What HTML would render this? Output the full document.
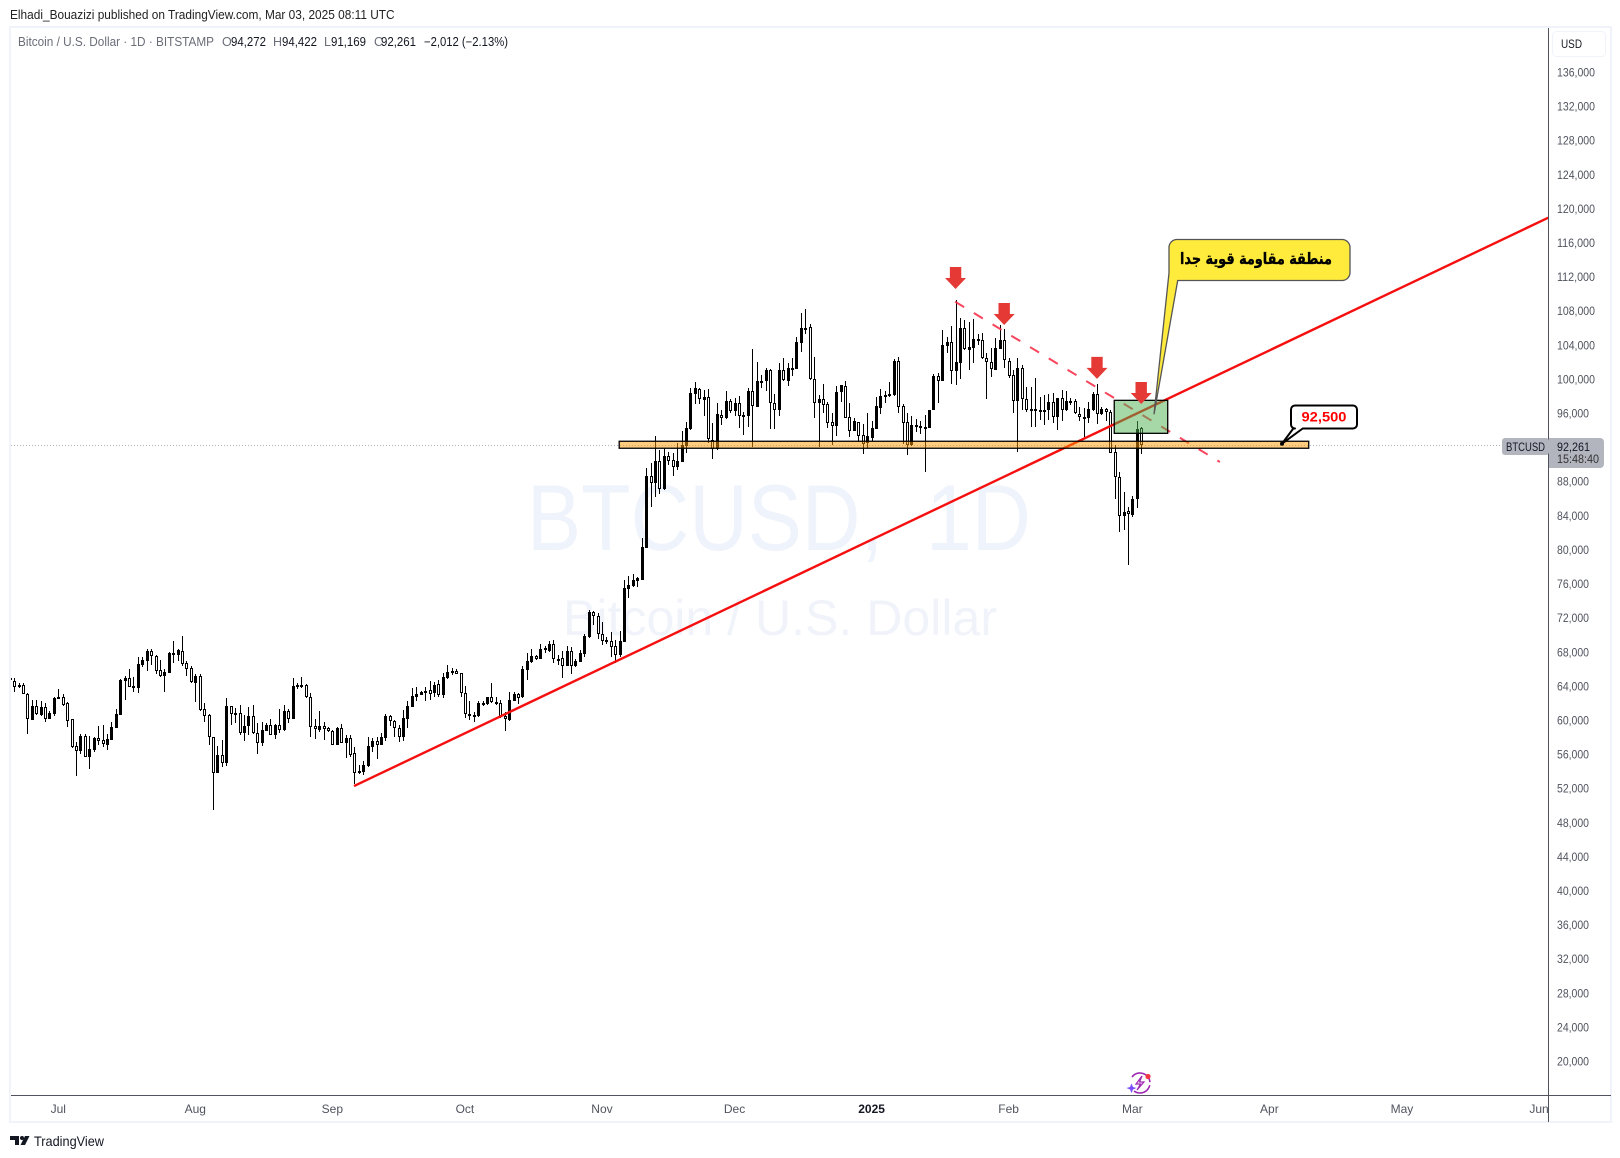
<!DOCTYPE html>
<html>
<head>
<meta charset="utf-8">
<title>BTCUSD chart</title>
<style>
html,body{margin:0;padding:0;background:#fff;width:1620px;height:1158px;overflow:hidden}
svg{display:block;font-family:"Liberation Sans","DejaVu Sans",sans-serif}
</style>
</head>
<body>
<svg id="root" width="1620" height="1158" viewBox="0 0 1620 1158" xmlns="http://www.w3.org/2000/svg">
  <defs><clipPath id="pane"><rect x="11" y="28" width="1537" height="1067"/></clipPath></defs>
  <text x="10" y="19" font-size="12.5" fill="#222" textLength="384.6" lengthAdjust="spacingAndGlyphs">Elhadi_Bouazizi published on TradingView.com, Mar 03, 2025 08:11 UTC</text>
  <rect x="10" y="27" width="1601" height="1095" fill="#fff" stroke="#f0f3fa" stroke-width="2"/>

  <g>
    <text x="527" y="550" font-size="94" fill="#eff3fb" textLength="356" lengthAdjust="spacingAndGlyphs">BTCUSD,</text>
    <text x="926" y="550" font-size="94" fill="#eff3fb" textLength="105" lengthAdjust="spacingAndGlyphs">1D</text>
    <text x="563" y="635" font-size="50" fill="#f0f3fa" textLength="434" lengthAdjust="spacingAndGlyphs">Bitcoin / U.S. Dollar</text>
  </g>

  <g id="plot" clip-path="url(#pane)"></g>

  <g>
    <text x="18" y="46" font-size="12.5" fill="#6a6d78" textLength="196" lengthAdjust="spacingAndGlyphs">Bitcoin / U.S. Dollar · 1D · BITSTAMP</text>
    <text x="222" y="46" font-size="12.5" fill="#6a6d78">O</text>
    <text x="231" y="46" font-size="12.5" fill="#131722" textLength="35" lengthAdjust="spacingAndGlyphs">94,272</text>
    <text x="273" y="46" font-size="12.5" fill="#6a6d78">H</text>
    <text x="282" y="46" font-size="12.5" fill="#131722" textLength="35" lengthAdjust="spacingAndGlyphs">94,422</text>
    <text x="324" y="46" font-size="12.5" fill="#6a6d78">L</text>
    <text x="331" y="46" font-size="12.5" fill="#131722" textLength="35" lengthAdjust="spacingAndGlyphs">91,169</text>
    <text x="374" y="46" font-size="12.5" fill="#6a6d78">C</text>
    <text x="381" y="46" font-size="12.5" fill="#131722" textLength="35" lengthAdjust="spacingAndGlyphs">92,261</text>
    <text x="424" y="46" font-size="12.5" fill="#131722" textLength="84" lengthAdjust="spacingAndGlyphs">−2,012 (−2.13%)</text>
  </g>

  <g id="annotations">
    <path d="M1177 239.5H1342a8 8 0 0 1 8 8V272.5a8 8 0 0 1 -8 8H1177.7L1154 414.3L1169 273V247.5a8 8 0 0 1 8 -8Z" fill="#ffeb3b" stroke="#555" stroke-width="1.3"/>
    <text x="1256" y="264" font-size="16" font-weight="bold" fill="#000" stroke="#000" stroke-width="0.35" text-anchor="middle" textLength="152" lengthAdjust="spacingAndGlyphs" style='font-family:"DejaVu Sans","Liberation Sans",sans-serif'>منطقة مقاومة قوية جدا</text>
    <path d="M1295 405.5H1353a4 4 0 0 1 4 4V424.5a4 4 0 0 1 -4 4H1302.7L1282 443.7L1293.3 428.5H1295a4 4 0 0 1 -4 -4V409.5a4 4 0 0 1 4 -4Z" fill="#fff" stroke="#000" stroke-width="2" stroke-linejoin="round"/>
    <circle cx="1282" cy="443.7" r="2" fill="#000"/>
    <text x="1324" y="421.5" font-size="14" font-weight="bold" fill="#f00" text-anchor="middle" textLength="45" lengthAdjust="spacingAndGlyphs">92,500</text>
  </g>

  <g id="axes">
    <rect x="1549" y="28" width="61" height="1093" fill="#fff"/>
    <rect x="11" y="1096" width="1599" height="25" fill="#fff"/>
    <line x1="1548.5" y1="28" x2="1548.5" y2="1122" stroke="#50535e" stroke-width="1"/>
    <line x1="11" y1="1095.5" x2="1611" y2="1095.5" stroke="#50535e" stroke-width="1"/>
    <rect x="1552.5" y="31.5" width="53" height="25" rx="4" fill="#fff" stroke="#f0f3fa"/>
    <text x="1561" y="48" font-size="12" fill="#131722" textLength="21" lengthAdjust="spacingAndGlyphs">USD</text>
    <g id="yticks"></g>
    <g id="xticks"></g>
    <rect x="1502" y="438" width="47" height="17" rx="3" fill="#b2b5be"/>
    <text x="1506" y="451" font-size="11.5" fill="#131722" textLength="39" lengthAdjust="spacingAndGlyphs">BTCUSD</text>
    <path d="M1549 438H1600a4 4 0 0 1 4 4V464a4 4 0 0 1 -4 4H1549Z" fill="#b2b5be"/>
    <text x="1557" y="451" font-size="12" fill="#131722" textLength="33" lengthAdjust="spacingAndGlyphs">92,261</text>
    <text x="1557" y="463" font-size="12" fill="#333" textLength="42" lengthAdjust="spacingAndGlyphs">15:48:40</text>
  </g>

  <g transform="translate(2,1)">
    <path d="M1130 1076A10 10 0 1 1 1132 1090" fill="none" stroke="#9c27b0" stroke-width="1.6" stroke-dasharray="24 3"/>
    <path d="M1140 1075L1134 1083H1138.5L1135 1089L1142 1081H1137.5Z" fill="none" stroke="#9c27b0" stroke-width="1.2"/>
    <circle cx="1146" cy="1075.5" r="2.6" fill="#f23645"/>
    <path d="M1129.5 1082.5L1131 1086L1134.5 1087L1131 1088.5L1129.5 1092L1128 1088.5L1124.5 1087L1128 1086Z" fill="#7c4dff"/>
  </g>

  <g>
    <path d="M10 1136H19V1145H15V1140H10Z" fill="#131722"/>
    <circle cx="22" cy="1138" r="2" fill="#131722"/>
    <path d="M25 1136H29.5L25 1145H20.5Z" fill="#131722"/>
    <text x="34" y="1146" font-size="14" fill="#131722" textLength="70" lengthAdjust="spacingAndGlyphs">TradingView</text>
  </g>
</svg>
<script>
// Daily candles in thousands of USD, oldest first. First candle is Jun 20 2024 (day -11 from Jul 1).
const firstDay = -11;
const opens = [
64.75,64.60,64.02,64.06,63.04,60.03,61.59,60.58,61.48,60.15,
60.73,62.49,62.65,61.95,60.07,56.90,56.39,58.07,55.69,56.51,
57.84,57.60,57.10,57.68,59.09,60.62,64.60,64.88,63.78,63.78,
66.48,66.95,68.04,67.46,65.82,65.19,65.54,67.77,67.65,68.04,
66.64,66.05,64.37,65.15,61.24,60.54,57.96,53.81,55.85,54.99,
61.59,60.73,60.77,58.50,59.25,60.42,58.50,57.33,58.74,59.36,
58.27,59.36,58.82,61.01,60.15,64.02,63.98,64.06,62.65,59.25,
58.82,59.25,59.01,58.74,57.10,59.01,57.29,57.84,56.08,53.81,
53.93,54.59,56.86,57.49,57.09,57.92,60.42,59.83,59.01,58.03,
60.14,61.55,62.72,62.96,63.23,63.47,63.15,64.21,62.96,64.91,
65.62,65.70,65.46,63.12,60.50,60.38,60.46,61.94,61.86,62.65,
62.02,61.98,60.42,59.99,62.26,63.00,62.65,65.89,66.79,67.46,
67.14,68.36,68.04,68.86,67.14,67.22,66.36,68.04,66.28,66.79,
67.73,69.72,72.62,72.15,70.04,69.10,69.22,68.63,67.61,69.14,
75.36,75.71,76.29,76.41,80.20,88.61,87.83,90.34,87.05,90.96,
90.45,89.71,90.30,92.13,94.13,98.27,98.78,97.53,97.84,92.80,
91.74,95.73,95.42,97.37,96.28,97.14,95.69,95.69,98.55,96.75,
99.68,99.76,101.05,97.14,96.40,101.01,99.76,101.17,101.17,104.25,
105.94,106.05,99.95,97.22,97.65,97.06,94.91,94.52,98.43,99.13,
95.50,93.93,94.91,93.39,92.45,93.07,94.17,96.63,98.04,98.16,
98.12,102.07,96.79,94.91,92.25,94.40,94.36,94.28,94.25,96.40,
100.31,99.80,103.90,104.29,100.97,101.91,105.94,103.43,103.67,104.61,
104.53,102.42,101.95,101.09,103.55,104.53,102.14,100.42,97.45,101.28,
97.61,96.36,96.40,96.28,96.28,96.32,97.26,95.57,97.72,96.36,
97.29,97.37,95.85,95.50,95.46,96.36,98.19,95.89,96.43,96.08,
91.39,88.46,83.92,84.47,84.04,85.88,94.27];
const highs = [
66.32,64.88,64.37,64.29,63.12,62.34,62.34,62.22,62.02,61.05,
62.73,63.59,63.00,62.10,60.15,57.41,58.31,58.31,58.11,58.03,
59.29,59.40,58.35,59.72,61.28,64.76,65.19,65.93,65.07,67.42,
67.42,68.28,68.32,67.61,67.03,65.93,68.01,69.26,68.28,69.84,
66.87,66.32,65.39,65.39,61.95,60.69,58.03,56.94,57.64,62.53,
61.63,61.36,61.75,60.58,61.48,61.75,59.60,59.72,59.60,60.15,
59.52,61.28,61.75,61.24,64.88,64.29,65.03,64.17,63.12,60.07,
61.05,59.79,59.21,58.82,59.13,59.52,58.23,58.23,56.86,54.71,
55.18,57.96,57.84,57.96,58.42,60.65,60.57,59.99,59.40,61.16,
62.26,63.78,63.90,63.39,63.82,64.52,64.48,64.68,65.54,66.44,
66.05,65.97,65.50,63.94,62.26,60.97,62.26,62.26,62.72,64.29,
62.72,62.30,60.97,63.27,63.31,63.12,66.32,67.81,68.28,67.61,
68.86,68.67,69.26,69.37,67.57,68.04,68.67,68.59,67.14,68.20,
70.08,72.89,72.81,72.50,71.44,69.76,70.35,69.37,70.43,76.41,
76.88,77.12,76.76,81.34,89.51,90.10,93.31,91.67,91.86,91.47,
91.27,92.45,93.89,94.99,98.90,99.64,98.90,98.70,98.78,94.79,
97.14,96.36,98.58,97.69,97.73,98.04,96.16,98.90,103.47,101.99,
100.50,101.24,101.13,98.23,101.91,102.50,101.83,102.50,104.96,107.70,
108.20,106.44,102.53,98.12,99.41,97.26,95.97,99.17,99.29,99.76,
97.14,95.38,94.99,94.71,95.97,95.11,97.92,98.78,98.62,99.68,
102.30,102.53,97.02,95.97,95.65,95.34,95.11,95.77,96.36,100.58,
100.66,105.74,104.88,106.21,109.26,107.11,106.91,106.72,107.03,105.27,
105.35,103.00,103.59,104.76,106.33,105.82,102.42,101.05,102.42,101.63,
99.09,99.02,100.07,97.92,98.12,98.23,98.31,97.72,98.70,98.62,
97.72,97.65,96.75,96.55,97.33,98.51,99.41,96.75,96.55,96.36,
92.25,89.12,86.78,85.02,86.27,95.07,94.42];
const lows = [
64.70,63.31,63.78,63.00,58.35,59.99,60.58,60.46,59.79,60.15,
60.46,62.41,61.63,59.21,56.67,53.46,55.96,55.69,54.28,56.28,
57.10,56.86,56.47,57.64,59.09,60.58,62.34,63.82,63.24,63.20,
66.25,65.78,66.44,65.39,65.07,63.31,65.54,66.64,66.95,66.36,
65.19,64.37,62.10,61.08,59.79,57.10,49.43,53.81,54.52,54.63,
59.44,59.60,58.27,57.57,58.23,58.35,56.00,56.94,58.70,58.23,
57.80,58.43,58.74,59.60,60.15,63.59,63.74,62.61,58.03,57.76,
58.62,57.64,58.58,57.10,57.06,57.29,55.57,55.61,52.48,53.65,
53.54,54.51,56.23,55.45,57.05,57.56,59.28,58.03,57.45,57.49,
59.09,61.47,62.26,62.92,62.26,62.33,62.65,62.72,62.53,64.80,
65.31,65.38,62.72,60.18,59.99,59.79,60.38,61.67,61.79,62.02,
61.75,60.18,58.74,59.91,62.22,61.86,62.53,64.72,66.67,67.03,
67.10,67.89,68.00,66.71,66.44,64.95,66.32,65.38,66.24,66.75,
67.42,69.65,71.13,69.45,68.82,68.90,67.42,66.71,67.42,69.10,
74.30,75.59,75.59,76.41,80.13,85.00,86.19,86.50,86.97,89.91,
88.62,89.32,90.26,91.35,94.05,97.06,97.06,95.65,92.52,90.65,
91.67,94.60,95.34,95.97,95.65,94.25,93.46,94.40,92.06,96.67,
98.94,98.58,94.17,94.17,95.65,99.80,99.21,100.35,101.17,103.20,
105.27,99.88,95.42,92.06,95.97,94.21,92.21,93.31,97.33,95.38,
93.23,93.89,92.64,91.20,91.86,92.68,94.13,95.89,97.22,97.92,
98.00,95.97,92.37,91.12,92.13,93.74,93.54,89.08,94.25,96.32,
97.14,99.76,103.00,99.41,99.29,100.03,103.39,101.05,101.83,103.98,
102.34,97.69,100.19,101.05,103.51,101.24,100.07,96.04,91.47,96.36,
96.16,94.40,94.40,95.18,94.60,95.18,94.87,94.01,95.11,96.24,
96.94,95.89,95.07,93.15,94.79,96.28,94.71,95.73,95.11,91.27,
85.88,82.08,82.28,78.14,83.77,84.90,91.17];
const closes = [
64.90,63.90,64.10,63.00,60.07,61.59,60.65,61.48,60.15,60.77,
62.53,62.65,61.79,59.91,56.86,56.39,58.07,55.69,56.55,57.84,
57.57,57.21,57.72,59.17,60.65,64.68,64.88,63.90,63.98,66.52,
66.99,68.04,67.46,65.78,65.19,65.58,67.85,67.85,68.16,66.60,
66.01,64.41,65.15,61.16,60.50,57.96,53.81,55.85,54.99,61.59,
60.65,60.77,58.50,59.25,60.42,58.50,57.33,58.78,59.36,58.27,
59.36,58.86,61.05,60.15,63.94,64.06,64.06,62.65,59.21,58.90,
59.25,58.97,58.74,57.10,59.05,57.33,57.88,55.92,53.81,54.01,
54.67,56.94,57.49,57.09,57.99,60.46,59.83,59.01,58.03,60.18,
61.59,62.80,63.00,63.27,63.35,63.08,64.05,62.92,64.99,65.58,
65.74,65.42,63.12,60.65,60.65,60.54,61.94,62.02,62.65,62.06,
62.06,60.38,60.07,62.33,63.04,62.61,65.97,66.87,67.50,67.18,
68.32,68.39,68.86,67.18,67.18,66.36,68.08,66.36,66.87,67.85,
69.84,72.62,72.15,70.04,69.29,69.37,68.59,67.65,69.25,75.47,
75.83,76.41,76.65,80.28,88.61,87.83,90.34,87.13,90.96,90.41,
89.71,90.34,92.21,94.25,98.35,98.94,97.61,97.84,92.92,91.74,
95.85,95.46,97.37,96.28,97.18,95.69,95.77,98.55,96.87,99.72,
99.76,101.01,97.22,96.40,101.01,99.91,101.24,101.24,104.33,105.94,
106.01,99.95,97.22,97.65,96.98,94.87,94.52,98.43,99.29,95.46,
93.93,95.03,93.35,92.41,93.31,94.21,96.83,97.99,98.12,98.23,
102.10,96.75,94.87,92.29,94.56,94.60,94.44,94.36,96.32,100.31,
99.80,103.94,104.29,100.97,101.99,105.97,103.47,103.75,104.68,104.68,
102.42,101.95,101.17,103.63,104.57,102.22,100.38,97.45,101.28,97.61,
96.36,96.43,96.47,96.36,96.36,97.26,95.57,97.72,96.36,97.37,
97.37,95.96,95.57,95.57,96.43,98.19,95.89,96.43,96.08,91.35,
88.46,83.92,84.43,84.12,85.88,94.09,92.26];

const priceTicks = [136,132,128,124,120,116,112,108,104,100,96,88,84,80,76,72,68,64,60,56,52,48,44,40,36,32,28,24,20];
const timeTickLabels = ["Jul","Aug","Sep","Oct","Nov","Dec","2025","Feb","Mar","Apr","May","Jun"];
const timeTickDays = [0,31,62,92,123,153,184,215,243,274,304,335];

const lastPrice = 92.261;
const trendDays = [66.9,337.1];
const trendPrices = [52.25,118.91];
const dashDays = [202.9,262.8];
const dashPrices = [109.06,90.26];
const supplyDays = [238.9,251];
const supplyPrices = [97.49,93.62];
const supportDays = [126.9,282.9];
const supportPrices = [92.69,91.87];
const arrowDays = [203,214,235,245];
const arrowPrices = [110.55,106.33,100.0,97.06];

function xOf(day){ return 58.3 + 4.42*day; }
function yOf(price){ return 72 + (136-price)*8.5259; }

const NS = "http://www.w3.org/2000/svg";
function make(parent, tag, props){
  const el = document.createElementNS(NS, tag);
  for (const k in props) el.setAttribute(k, props[k]);
  parent.appendChild(el);
  return el;
}
const plot = document.getElementById("plot");

const priceLine = make(plot, "line", {x1:11, x2:1548, y1:Math.round(yOf(lastPrice))+0.5, y2:Math.round(yOf(lastPrice))+0.5, stroke:"#b2b5be", "stroke-width":1, "stroke-dasharray":"1 2"});



const candleGroup = make(plot, "g", {"shape-rendering":"crispEdges"});


opens.forEach(function(open, i){
  const X = Math.round(xOf(firstDay + i));
  const yH = Math.round(yOf(highs[i]));
  const yL = Math.round(yOf(lows[i]));
  const yTop = Math.round(yOf(Math.max(open, closes[i])));
  const yBot = Math.max(yTop + 1, Math.round(yOf(Math.min(open, closes[i]))));
  const g = make(candleGroup, "g", {});
  
  
  make(g, "rect", {x:X, y:yH, width:1, height:Math.max(1, yL-yH), fill:"#000"});
  if (closes[i] >= open) {
    make(g, "rect", {x:X-1, y:yTop, width:3, height:Math.max(2, yBot-yTop), fill:"#000"});
  } else {
    make(g, "rect", {x:X-0.5, y:yTop+0.5, width:2, height:Math.max(1, yBot-yTop-1), fill:"#fff", stroke:"#000", "stroke-width":1});
  }
});

const trend = make(plot, "line", {x1:xOf(trendDays[0]), y1:yOf(trendPrices[0]), x2:xOf(trendDays[1]), y2:yOf(trendPrices[1]), stroke:"#f50f0f", "stroke-width":2.4});



const dash = make(plot, "line", {x1:xOf(dashDays[0]), y1:yOf(dashPrices[0]), x2:xOf(dashDays[1]), y2:yOf(dashPrices[1]), stroke:"#f7304a", "stroke-width":2, "stroke-dasharray":"10.5 11.4", "stroke-opacity":0.9});



const supply = make(plot, "rect", {x:xOf(supplyDays[0]), y:yOf(supplyPrices[0]), width:xOf(supplyDays[1])-xOf(supplyDays[0]), height:yOf(supplyPrices[1])-yOf(supplyPrices[0]), fill:"rgba(76,175,80,0.5)", stroke:"#000", "stroke-width":1.3});



const support = make(plot, "rect", {x:xOf(supportDays[0]), y:yOf(supportPrices[0]), width:xOf(supportDays[1])-xOf(supportDays[0]), height:yOf(supportPrices[1])-yOf(supportPrices[0]), fill:"rgba(255,152,0,0.5)", stroke:"#000", "stroke-width":1.3});



arrowDays.forEach(function(day, i){
  const cx = xOf(day);
  const tip = yOf(arrowPrices[i]);
  const pts = [[cx,tip],[cx-10.5,tip-11],[cx-5.7,tip-11],[cx-5.7,tip-22],[cx+5.7,tip-22],[cx+5.7,tip-11],[cx+10.5,tip-11]];
  const arrow = make(plot, "polygon", {points:pts.map(function(p){return p.join(",");}).join(" "), fill:"#e53935"});
  
  
});

const yticks = document.getElementById("yticks");
priceTicks.forEach(function(v){
  const t = make(yticks, "text", {x:1557, y:yOf(v)+4.5, "font-size":12, fill:"#50535e", textLength:38, lengthAdjust:"spacingAndGlyphs"});
  
  
  t.textContent = (v*1000).toLocaleString("en-US");
  if (v < 100) t.setAttribute("textLength", 32);
});

const xticks = document.getElementById("xticks");
timeTickLabels.forEach(function(label, i){
  const bold = label === "2025";
  const t = make(xticks, "text", {x:xOf(timeTickDays[i]), y:1113, "font-size":12, "text-anchor":"middle", fill:bold ? "#131722" : "#50535e", "font-weight":bold ? "bold" : "normal"});
  
  
  t.textContent = label;
});
</script>
</body>
</html>
